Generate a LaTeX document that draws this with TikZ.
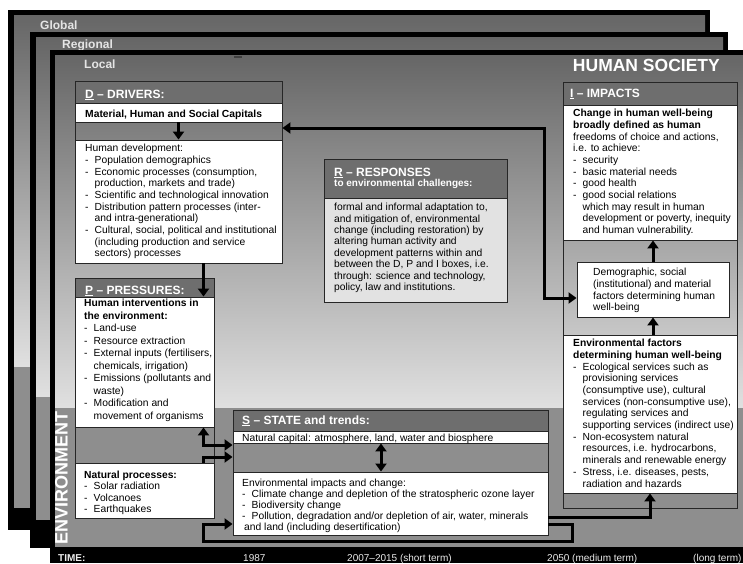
\documentclass[tikz,border=0pt]{standalone}
\usepackage{fontspec}
\setmainfont{Liberation Sans}
\usetikzlibrary{arrows.meta,fit}

\definecolor{capgray}{HTML}{6E6E6E}
\definecolor{envgray}{HTML}{8E8E8E}
\definecolor{resgray}{HTML}{E2E2E2}
\newcommand\li{\makebox[9.5pt][l]{-}}
\newcommand\ct{\hspace*{9.5pt}}

\tikzset{
  sect/.style={draw=black!85, line width=0.9pt, inner sep=0pt},
  headbox/.style={sect, fill=capgray},
  wsect/.style={sect, fill=white},
  headtxt/.style={anchor=base west, inner sep=0pt, text=white, font=\bfseries\fontsize{12}{14}\selectfont},
  paneltxt/.style={anchor=base west, inner sep=0pt, text=white!90!black, font=\bfseries\fontsize{12}{14}\selectfont},
  linetxt/.style={anchor=base west, inner sep=0pt, font=\fontsize{10.3}{12}\selectfont},
  body/.style={anchor=north west, inner sep=0pt, align=left, font=\fontsize{10.3}{#1}\selectfont},
  body/.default=11.7,
  timetxt/.style={anchor=base west, inner sep=0pt, text=white!92!black, font=\fontsize{10}{12}\selectfont},
  flow/.style={line width=3pt, -{Triangle[length=8pt,width=11pt]}},
  twoway/.style={line width=3pt, {Triangle[length=8pt,width=11pt]}-{Triangle[length=8pt,width=11pt]}},
}

\begin{document}
\begin{tikzpicture}[x=1pt,y=-1pt]
		%%%%% START %%%%%
		\useasboundingbox (0,0) rectangle (743,563);
		\fill[white] (0,0) rectangle (743,563);
		
		% global panel
		\fill[black] (8,10) rectangle (710,530);
		\shade[top color=black!60, bottom color=black!12] (14,15) rectangle (705,367);
		\fill[envgray] (14,367) rectangle (705,508);
		\node[paneltxt] (glob) at (40,29.5) {Global};
		
		% regional panel
		\fill[black] (30,32) rectangle (728,548);
		\shade[top color=black!60, bottom color=black!12] (36,37) rectangle (723,397);
		\fill[envgray] (36,397) rectangle (723,520);
		\node[paneltxt] (regi) at (62,48) {Regional};
		
		% local panel
		\fill[black] (50,50) rectangle (743,563);
		\shade[top color=black!60, bottom color=black!12] (55,55) rectangle (743,408);
		\fill[envgray] (55,408) rectangle (743,547);
		\node[paneltxt] (loca) at (84,68) {Local};
		\draw[black!75, line width=1.2pt] (234,57) -- (242,57);
		
		\node[anchor=base east, inner sep=0pt, text=white, font=\bfseries\fontsize{17.5}{20}\selectfont] (society) at (720,71.5) {HUMAN SOCIETY};
		\node[rotate=90, inner sep=0pt, text=white, font=\bfseries\fontsize{18}{20}\selectfont] (environ) at (61.5,478) {ENVIRONMENT};
		
		% D box
		\node[sect, fit={(75,81) (282,263)}] (D) {};
		\node[headbox, fit={(75,81) (282,103)}] (Dcap) {};
		\node[wsect, fit={(75,103) (282,122)}] (Dcapital) {};
		\node[wsect, fit={(75,140) (282,263)}] (Ddev) {};
		\node[headtxt] (Dhead) at (85,98) {\underline{D} – DRIVERS:};
		\node[linetxt, font=\bfseries\fontsize{10.3}{12}\selectfont] (Dcaptxt) at (85,117.5) {Material, Human and Social Capitals};
		\node[body] (Ddevtxt) at (85,144) {Human development:\\
			\li Population demographics\\
			\li Economic processes (consumption,\\
			\ct production, markets and trade)\\
			\li Scientific and technological innovation\\
			\li Distribution pattern processes (inter-\\
			\ct and intra-generational)\\
			\li Cultural, social, political and institutional\\
			\ct (including production and service\\
			\ct sectors) processes};
		
		% P box
		\node[sect, fit={(75,278) (214,518)}] (P) {};
		\node[headbox, fit={(75,278) (214,297)}] (Pcap) {};
		\node[wsect, fit={(75,297) (214,427)}] (Phuman) {};
		\node[wsect, fit={(75,463) (214,518)}] (Pnat) {};
		\node[headtxt] (Phead) at (85,294) {\underline{P} – PRESSURES:};
		\node[body=12.5] (Phumantxt) at (84,299) {\textbf{Human interventions in}\\
			\textbf{the environment:}\\
			\li Land-use\\
			\li Resource extraction\\
			\li External inputs (fertilisers,\\
			\ct chemicals, irrigation)\\
			\li Emissions (pollutants and\\
			\ct waste)\\
			\li Modification and\\
			\ct movement of organisms};
		\node[body=11.3] (Pnattxt) at (84,471) {\textbf{Natural processes:}\\
			\li Solar radiation\\
			\li Volcanoes\\
			\li Earthquakes};
		
		% S box
		\node[sect, fit={(233,410) (548,535)}] (S) {};
		\node[headbox, fit={(233,410) (548,431)}] (Scap) {};
		\node[wsect, fit={(233,431) (548,443)}] (Snat) {};
		\node[wsect, fit={(233,472) (548,535)}] (Senv) {};
		\node[headtxt] (Shead) at (242,424) {\underline{S} – STATE and trends:};
		\node[linetxt] (Snattxt) at (242,441) {Natural capital: atmosphere, land, water and biosphere};
		\node[body=11] (Senvtxt) at (242,479) {Environmental impacts and change:\\
			\li Climate change and depletion of the stratospheric ozone layer\\
			\li Biodiversity change\\
			\li Pollution, degradation and/or depletion of air, water, minerals\\
			\hspace*{2pt}and land (including desertification)};
		
		% R box
		\node[headbox, fit={(324,159) (507,198)}] (Rcap) {};
		\node[sect, fill=resgray, fit={(324,198) (507,302)}] (Rbody) {};
		\node[headtxt] (Rhead) at (334,176) {\underline{R} – RESPONSES};
		\node[headtxt, font=\bfseries\fontsize{10}{12}\selectfont] (Rsub) at (334,186) {to environmental challenges:};
		\node[body=11.4] (Rbodytxt) at (334,203) {formal and informal adaptation to,\\
			and mitigation of, environmental\\
			change (including restoration) by\\
			altering human activity and\\
			development patterns within and\\
			between the D, P and I boxes, i.e.\\
			through: science and technology,\\
			policy, law and institutions.};
		
		% I box
		\node[sect, fit={(563,82) (737,508)}] (I) {};
		\node[headbox, fit={(563,82) (737,105)}] (Icap) {};
		\node[wsect, fit={(563,105) (737,240)}] (Iwhite) {};
		\node[wsect, fit={(577,262) (729,317)}] (Idemo) {};
		\node[wsect, fit={(563,335) (737,493)}] (Ienv) {};
		\node[headtxt] (Ihead) at (570,97) {\underline{I} – IMPACTS};
		\node[body] (Iwhitetxt) at (573,109) {\textbf{Change in human well-being}\\
			\textbf{broadly defined as human}\\
			freedoms of choice and actions,\\
			i.e. to achieve:\\
			\li security\\
			\li basic material needs\\
			\li good health\\
			\li good social relations\\
			\ct which may result in human\\
			\ct development or poverty, inequity\\
			\ct and human vulnerability.};
		\node[body] (Idemotxt) at (593,268) {Demographic, social\\
			(institutional) and material\\
			factors determining human\\
			well-being};
		\node[body] (Ienvtxt) at (573,339) {\textbf{Environmental factors}\\
			\textbf{determining human well-being}\\
			\li Ecological services such as\\
			\ct provisioning services\\
			\ct (consumptive use), cultural\\
			\ct services (non-consumptive use),\\
			\ct regulating services and\\
			\ct supporting services (indirect use)\\
			\li Non-ecosystem natural\\
			\ct resources, i.e. hydrocarbons,\\
			\ct minerals and renewable energy\\
			\li Stress, i.e. diseases, pests,\\
			\ct radiation and hazards};
		
		% arrows
		\coordinate (xdp) at (203.5,0);
		\coordinate (xs) at (381,0);
		\coordinate (xdi) at (544,0);
		\coordinate (xloop) at (572,0);
		\coordinate (ydi) at (0,128);
		\coordinate (ydemo) at (0,298);
		\coordinate (yps) at (0,445);
		\coordinate (ynat) at (0,457);
		\coordinate (ysi) at (0,517);
		\coordinate (yloop) at (0,524);
		\coordinate (ybot) at (0,541);
		
		\draw[flow] (Dcapital.south) -- (Ddev.north);
		\draw[flow] (Ddev.south -| xdp) -- (Phuman.north -| xdp);
		\draw[twoway] (Phuman.south -| xdp) |- (S.west |- yps);
		\draw[flow] (Pnat.north -| xdp) |- (S.west |- ynat);
		\draw[twoway] (Snat.south -| xs) -- (Senv.north -| xs);
		\draw[flow] (S.east |- yloop) -| (xloop |- ybot) -| (xdp |- yloop) -- (S.west |- yloop);
		\draw[flow] (S.east |- ysi) -| (Ienv.south);
		\draw[flow] (Ienv.north -| Idemo.north) -- (Idemo.south);
		\draw[flow] (Idemo.north) -- (Idemo.north |- Iwhite.south);
		\draw[twoway] (D.east |- ydi) -| (xdi |- ydemo) -- (Idemo.west |- ydemo);
		
		% time line
		\node[timetxt, font=\bfseries\fontsize{10}{12}\selectfont] (time) at (58,561.5) {TIME:};
		\node[timetxt] (t1987) at (243,561.5) {1987};
		\node[timetxt] (tshort) at (347,561.5) {2007–2015 (short term)};
		\node[timetxt] (tmedium) at (547,561.5) {2050 (medium term)};
		\node[timetxt] (tlong) at (693,561.5) {(long term)};
		
		%%%%% END %%%%%
\end{tikzpicture}
\end{document}
